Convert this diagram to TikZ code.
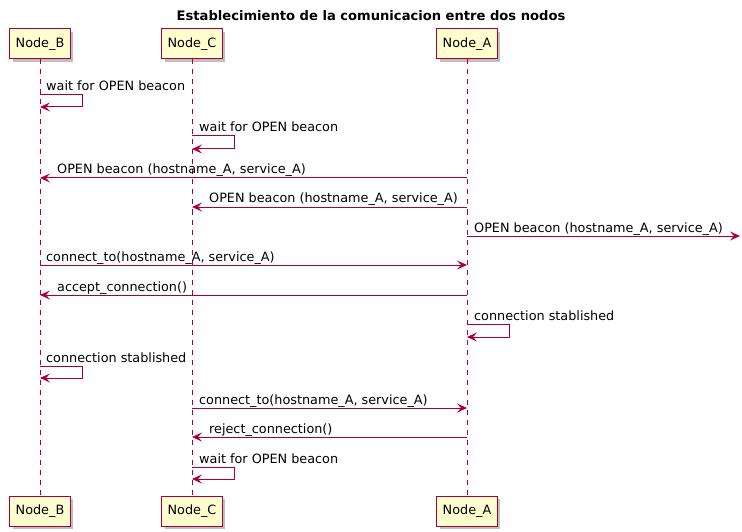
\documentclass[tikz,border=0pt]{standalone}
\usepackage{fontspec}
\setmainfont{DejaVu Sans}
\usetikzlibrary{arrows.meta,positioning,shadows}
\definecolor{umlred}{HTML}{A80036}
\definecolor{umlbox}{HTML}{FEFECE}

\begin{document}
\begin{tikzpicture}[x=1pt,y=-1pt,
    participant/.style={draw=umlred,fill=umlbox,line width=1pt,minimum height=30pt,inner xsep=6pt,
      font=\fontsize{12.8}{15}\selectfont,
      drop shadow={opacity=0.25,shadow xshift=3pt,shadow yshift=-3pt,fill=black}},
    lifeline/.style={umlred,line width=0.8pt,dash pattern=on 5pt off 5pt},
    msg/.style={umlred,line width=1pt,-{Stealth[length=10pt,width=9pt,inset=4pt]}},
    lbl/.style={anchor=base west,inner sep=0pt,font=\fontsize{12.8}{15}\selectfont}]
    \useasboundingbox (0,0) rectangle (742,532);

    % title
    \node[font=\bfseries\fontsize{13.1}{15}\selectfont] (title) at (371,16) {Establecimiento de la comunicacion entre dos nodos};

    % participants, top and bottom
    \node[participant] (bt) at (40,44) {Node\_B};
    \node[participant] (ct) at (192,44) {Node\_C};
    \node[participant] (at) at (467,44) {Node\_A};
    \node[participant] (bb) at (40,511) {Node\_B};
    \node[participant] (cb) at (192,511) {Node\_C};
    \node[participant] (ab) at (467,511) {Node\_A};

    \draw[lifeline] (bt) -- (bb);
    \draw[lifeline] (ct) -- (cb);
    \draw[lifeline] (at) -- (ab);

    % messages
    \draw[msg] (bt |- 0,95) -- ++(42,0) |- (bt |- 0,107);
    \node[lbl] (m1) at (46,91) {wait for OPEN beacon};

    \draw[msg] (ct |- 0,136) -- ++(42,0) |- (ct |- 0,149);
    \node[lbl] (m2) at (199,132) {wait for OPEN beacon};

    \draw[msg] (at |- 0,178) -- (bt |- 0,178);
    \node[lbl] (m3) at (57,174) {OPEN beacon (hostname\_A, service\_A)};

    \draw[msg] (at |- 0,207) -- (ct |- 0,207);
    \node[lbl] (m4) at (209,203) {OPEN beacon (hostname\_A, service\_A)};

    \coordinate (out) at (740,236);
    \draw[msg] (at |- 0,236) -- (out);
    \node[lbl] (m5) at (474,232) {OPEN beacon (hostname\_A, service\_A)};

    \draw[msg] (bt |- 0,265) -- (at |- 0,265);
    \node[lbl] (m6) at (46,261) {connect\_to(hostname\_A, service\_A)};

    \draw[msg] (at |- 0,295) -- (bt |- 0,295);
    \node[lbl] (m7) at (57,291) {accept\_connection()};

    \draw[msg] (at |- 0,324) -- ++(42,0) |- (at |- 0,337);
    \node[lbl] (m8) at (474,320) {connection stablished};

    \draw[msg] (bt |- 0,366) -- ++(42,0) |- (bt |- 0,378);
    \node[lbl] (m9) at (46,362) {connection stablished};

    \draw[msg] (ct |- 0,408) -- (at |- 0,408);
    \node[lbl] (m10) at (199,404) {connect\_to(hostname\_A, service\_A)};

    \draw[msg] (at |- 0,437) -- (ct |- 0,437);
    \node[lbl] (m11) at (209,433) {reject\_connection()};

    \draw[msg] (ct |- 0,467) -- ++(42,0) |- (ct |- 0,479);
    \node[lbl] (m12) at (199,463) {wait for OPEN beacon};
\end{tikzpicture}
\end{document}
